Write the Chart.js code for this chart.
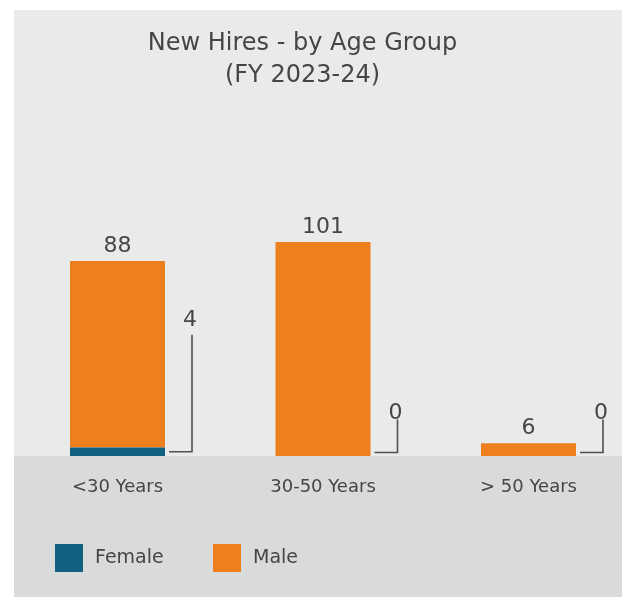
<!DOCTYPE html>
<html>
<head>
<meta charset="utf-8">
<script src="https://cdn.jsdelivr.net/npm/chart.js@4/dist/chart.umd.min.js"></script>
<style>
  html, body { margin: 0; padding: 0; background: #ffffff; }
  #wrap { position: relative; width: 622px; height: 597px; overflow: hidden; background: #ffffff; }
  #c { position: absolute; left: 0; top: 0; display: block; }
</style>
</head>
<body>
<div id="wrap"><canvas id="c" width="640" height="597"></canvas></div>
<script>
// ---- data ----
const titleLines = ['New Hires - by Age Group', '(FY 2023-24)'];
const categories = ['<30 Years', '30-50 Years', '> 50 Years'];
const seriesNames = ['Female', 'Male'];
const femaleValues = [4, 0, 0];
const maleValues = [88, 101, 6];

// ---- styles ----
const FONT = '"DejaVu Sans", sans-serif';
const TEXT = '#454545';
const COLORS = { female: '#12607f', male: '#ee7f1e' };
const PANEL = '#e9ebea';
const BAND = '#d9dbda';

// callout styling for the female labels (leader lines)
const calloutRise = [117, 33, 33];
const calloutGap = [9, 1, 1];

const decor = {
  id: 'decor',
  beforeDraw(chart) {
    const ctx = chart.ctx;
    const y0 = chart.scales.y.getPixelForValue(0);
    ctx.save();
    ctx.fillStyle = PANEL;
    ctx.fillRect(14, 10, chart.width - 14, chart.height - 10);
    ctx.fillStyle = BAND;
    ctx.fillRect(14, y0, chart.width - 14, chart.height - y0);
    ctx.restore();
  },
  afterDraw(chart) {
    const ctx = chart.ctx;
    ctx.save();
    // title
    ctx.fillStyle = TEXT;
    ctx.font = '24px ' + FONT;
    ctx.textAlign = 'center';
    ctx.textBaseline = 'middle';
    ctx.fillText(titleLines[0], 302.5, 44);
    ctx.fillText(titleLines[1], 302.5, 76);

    // male labels above bars
    const maleMeta = chart.getDatasetMeta(1);
    ctx.font = '22px ' + FONT;
    ctx.textBaseline = 'alphabetic';
    maleMeta.data.forEach((el, i) => {
      ctx.fillText(String(maleValues[i]), el.x, el.y - 9);
    });

    // female callouts
    const femMeta = chart.getDatasetMeta(0);
    ctx.strokeStyle = '#505050';
    ctx.lineWidth = 1.6;
    femMeta.data.forEach((el, i) => {
      const right = el.x + el.width / 2;
      const yl = Math.min((el.y + el.base) / 2, el.base - 3.5);
      const vx = right + 27;
      const top = yl - calloutRise[i];
      ctx.beginPath();
      ctx.moveTo(right + 4, yl);
      ctx.lineTo(vx, yl);
      ctx.lineTo(vx, top);
      ctx.stroke();
      ctx.textAlign = 'center';
      ctx.fillText(String(femaleValues[i]), vx - 2, top - calloutGap[i]);
    });

    // legend
    const ds = chart.data.datasets;
    const legendX = [55, 213];
    ctx.font = '19px ' + FONT;
    ctx.textAlign = 'left';
    ctx.textBaseline = 'middle';
    ds.forEach((d, i) => {
      ctx.fillStyle = d.backgroundColor;
      ctx.fillRect(legendX[i], 544, 28, 28);
      ctx.fillStyle = TEXT;
      ctx.fillText(d.label, legendX[i] + 40, 558);
    });
    ctx.restore();
  }
};

new Chart(document.getElementById('c'), {
  type: 'bar',
  data: {
    labels: categories,
    datasets: [
      { label: seriesNames[0], data: femaleValues, backgroundColor: COLORS.female, stack: 's' },
      { label: seriesNames[1], data: maleValues, backgroundColor: COLORS.male, stack: 's' }
    ]
  },
  options: {
    responsive: false,
    animation: false,
    devicePixelRatio: 1,
    layout: { padding: { left: 14.75, right: 8.75, top: 138, bottom: 85.4 } },
    datasets: { bar: { categoryPercentage: 1, barPercentage: 0.4623 } },
    plugins: { legend: { display: false }, title: { display: false }, tooltip: { enabled: false } },
    scales: {
      x: {
        stacked: true,
        grid: { display: false },
        border: { display: false },
        ticks: { color: TEXT, font: { family: FONT, size: 18 }, padding: 13 }
      },
      y: { stacked: true, display: false, min: 0, max: 150 }
    }
  },
  plugins: [decor]
});
</script>
</body>
</html>
